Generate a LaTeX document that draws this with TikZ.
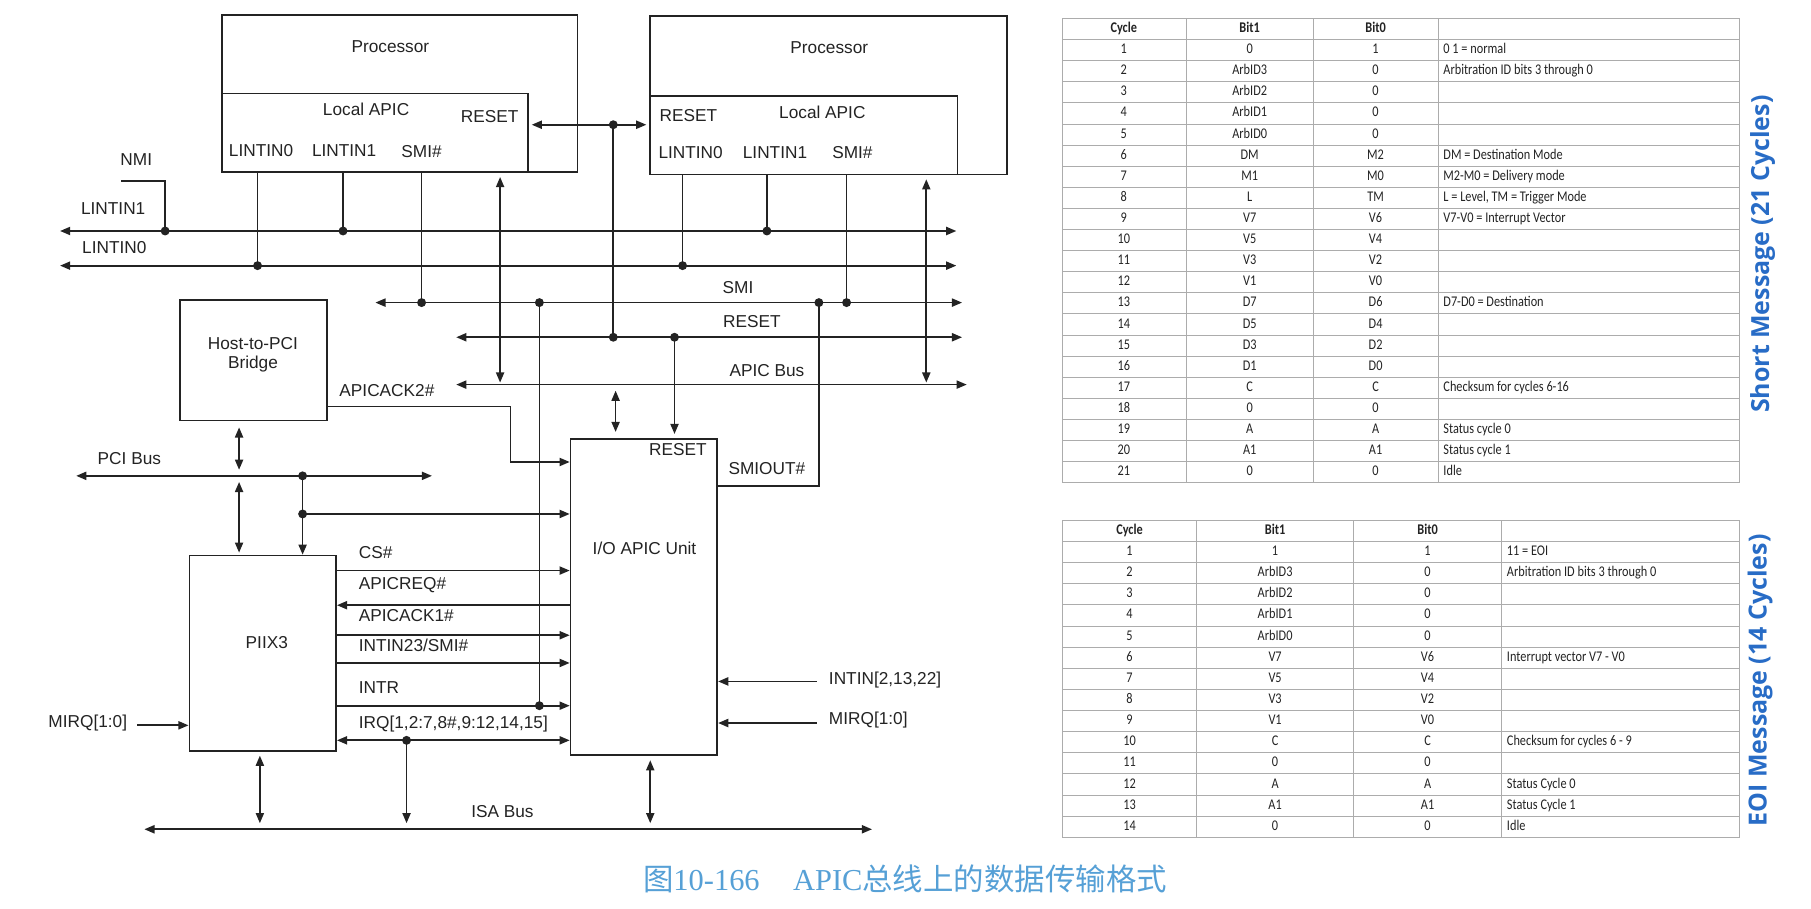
\documentclass[tikz,border=0pt]{standalone}
\usepackage{fontspec}
\setmainfont{Liberation Sans}
\newfontfamily\tabfont[FakeStretch=0.83]{Carlito}
\newfontfamily\titlefont{Open Sans}
\newfontfamily\capfont{Liberation Serif}
\newfontfamily\cjk{Noto Sans CJK SC}
\usepackage{tikz}
\usetikzlibrary{arrows.meta,fit}
\definecolor{ink}{RGB}{35,35,35}
\definecolor{titleblue}{RGB}{40,108,198}
\definecolor{capblue}{RGB}{86,160,214}

\tikzset{
  box/.style={draw,inner sep=0pt},
  lbl/.style={font=\fontsize{8.5}{9.6}\selectfont,inner sep=0pt},
  grid/.style={draw=gray!65,line width=0.45pt},
  cell/.style={font=\tabfont\fontsize{7.3}{8}\selectfont,inner sep=0pt,text height=5pt,text depth=1.5pt,text=ink},
  hcell/.style={cell,font=\tabfont\bfseries\fontsize{7.3}{8}\selectfont},
  ttl/.style={font=\titlefont\bfseries\fontsize{12.3}{14}\selectfont,text=titleblue,rotate=90,inner sep=0pt}
}

\begin{document}
\begin{tikzpicture}[x=0.02cm,y=-0.02cm,>={Triangle[length=5pt,width=4pt]},line width=0.85pt,color=ink]
\useasboundingbox (0,0) rectangle (1568,787);

% processors
\node[box,fit={(192,13) (500,149)}] (cpuA) {};
\node[box,fit={(192,81) (457,149)}] (lapicA) {};
\node[lbl] (cpuAname) at (338,40) {Processor};
\node[lbl] (lapicAname) at (317,95) {Local APIC};
\node[lbl] (rstAname) at (424,101) {RESET};
\node[lbl] (l0Aname) at (226,130) {LINTIN0};
\node[lbl] (l1Aname) at (298,130) {LINTIN1};
\node[lbl] (smiAname) at (365,131) {SMI\#};

\node[box,fit={(563,14) (872,151)}] (cpuB) {};
\node[box,fit={(563,83) (829,151)}] (lapicB) {};
\node[lbl] (cpuBname) at (718,41) {Processor};
\node[lbl] (lapicBname) at (712,97) {Local APIC};
\node[lbl] (rstBname) at (596,100) {RESET};
\node[lbl] (l0Bname) at (598,132) {LINTIN0};
\node[lbl] (l1Bname) at (671,132) {LINTIN1};
\node[lbl] (smiBname) at (738,132) {SMI\#};

% chipset
\node[box,fit={(156,260) (283,364)}] (bridge) {};
\node[lbl,align=center] (bridgename) at (219,307) {Host-to-PCI\\Bridge};
\node[box,fit={(164,481) (291,650)}] (piix) {};
\node[lbl] (piixname) at (231,556) {PIIX3};
\node[box,fit={(494,380) (621,654)}] (io) {};
\node[lbl] (ioname) at (558,475) {I/O APIC Unit};
\node[lbl] (iorst) at (587,389) {RESET};

% buses
\coordinate (lt1W) at (52,200); \coordinate (lt1E) at (828,200);
\coordinate (lt0W) at (52,230); \coordinate (lt0E) at (828,230);
\coordinate (smiW) at (325,262); \coordinate (smiE) at (833,262);
\coordinate (rstW) at (395,292); \coordinate (rstE) at (833,292);
\coordinate (apW) at (395,333); \coordinate (apE) at (837,333);
\coordinate (pciW) at (66,412); \coordinate (pciE) at (374,412);
\coordinate (isaW) at (125,718); \coordinate (isaE) at (755,718);
\draw[<->] (lt1W) -- (lt1E);
\draw[<->] (lt0W) -- (lt0E);
\draw[<->] (smiW) -- (smiE);
\draw[<->] (rstW) -- (rstE);
\draw[<->] (apW) -- (apE);
\draw[<->] (pciW) -- (pciE);
\draw[<->] (isaW) -- (isaE);
\node[lbl] (lt1name) at (98,181) {LINTIN1};
\node[lbl] (lt0name) at (99,214) {LINTIN0};
\node[lbl] (nminame) at (118,138) {NMI};
\node[lbl] (sminame) at (639,249) {SMI};
\node[lbl] (rstname) at (651,278) {RESET};
\node[lbl] (apname) at (664,321) {APIC Bus};
\node[lbl] (pciname) at (112,397) {PCI Bus};
\node[lbl] (isaname) at (435,703) {ISA Bus};

% NMI and local interrupt lines
\coordinate (nmiS) at (105,157); \coordinate (nmiJ) at (143,200);
\draw (nmiS) -| (nmiJ);
\coordinate (l1A) at (297,200); \coordinate (l0A) at (223,230); \coordinate (smiA) at (365,262);
\coordinate (l1B) at (664,200); \coordinate (l0B) at (591,230); \coordinate (smiB) at (733,262);
\draw (lapicA.south -| l1A) -- (l1A);
\draw (lapicA.south -| l0A) -- (l0A);
\draw (lapicA.south -| smiA) -- (smiA);
\draw (lapicB.south -| l1B) -- (l1B);
\draw (lapicB.south -| l0B) -- (l0B);
\draw (lapicB.south -| smiB) -- (smiB);

% reset
\coordinate (rstT) at (531,108); \coordinate (rstJ) at (531,292);
\draw[<->,shorten <=1.5pt,shorten >=1.5pt] (lapicA.east |- rstT) -- (lapicB.west |- rstT);
\draw (rstT) -- (rstJ);
\coordinate (rstIO) at (584,292);
\draw[->,shorten >=2pt] (rstIO) -- (io.north -| rstIO);

% APIC bus taps
\coordinate (apA) at (433,333); \coordinate (apB) at (802,333); \coordinate (apIO) at (533,333);
\draw[<->,shorten <=2pt,shorten >=1pt] (lapicA.south -| apA) -- (apA);
\draw[<->,shorten <=2pt,shorten >=1pt] (lapicB.south -| apB) -- (apB);
\draw[<->,shorten <=3pt,shorten >=3pt] (apIO) -- (io.north -| apIO);

% SMIOUT# and INTR
\coordinate (smiIO) at (709,262); \coordinate (smoC) at (709,421);
\draw (smoC -| io.east) -- (smoC) -- (smiIO);
\node[lbl] (smoname) at (664,406) {SMIOUT\#};
\coordinate (smiV) at (467,262); \coordinate (intrJ) at (467,611);
\draw (smiV) -- (intrJ);

% APICACK2#
\coordinate (ack2a) at (442,352); \coordinate (ack2b) at (442,400);
\draw[->] (ack2a -| bridge.east) -- (ack2a) -- (ack2b) -- (ack2b -| io.west);
\node[lbl] (ack2name) at (335,338) {APICACK2\#};

% PCI side
\coordinate (pciB) at (207,412); \coordinate (pciJ) at (262,412); \coordinate (pciK) at (262,445);
\draw[<->,shorten <=3pt,shorten >=3pt] (bridge.south -| pciB) -- (pciB);
\draw[<->,shorten <=3pt,shorten >=1pt] (pciB) -- (piix.north -| pciB);
\draw[->] (pciJ) -- (piix.north -| pciJ);
\draw[->] (pciK) -- (pciK -| io.west);

% PIIX3 to I/O APIC
\draw[->] (piix.east |- 0,494) -- (io.west |- 0,494);
\draw[<-] (piix.east |- 0,524) -- (io.west |- 0,524);
\draw[->] (piix.east |- 0,550) -- (io.west |- 0,550);
\draw[->] (piix.east |- 0,574) -- (io.west |- 0,574);
\draw[->] (piix.east |- 0,611) -- (io.west |- 0,611);
\draw[<->] (piix.east |- 0,641) -- (io.west |- 0,641);
\node[lbl,anchor=west] (csname) at (310,478) {CS\#};
\node[lbl,anchor=west] (reqname) at (310,507) {APICREQ\#};
\node[lbl,anchor=west] (ack1name) at (310,533) {APICACK1\#};
\node[lbl,anchor=west] (intinname) at (310,559) {INTIN23/SMI\#};
\node[lbl,anchor=west] (intrname) at (310,595) {INTR};
\node[lbl,anchor=west] (irqname) at (310,627) {IRQ[1,2:7,8\#,9:12,14,15]};

% outside inputs
\coordinate (mirqL) at (119,628); \coordinate (intinR) at (707,590); \coordinate (mirqR) at (707,626);
\draw[->] (mirqL) -- (mirqL -| piix.west);
\draw[->] (intinR) -- (intinR -| io.east);
\draw[->] (mirqR) -- (mirqR -| io.east);
\node[lbl] (mirqLname) at (76,626) {MIRQ[1:0]};
\node[lbl,anchor=west] (intinRname) at (717,589) {INTIN[2,13,22]};
\node[lbl,anchor=west] (mirqRname) at (717,623) {MIRQ[1:0]};

% ISA taps
\coordinate (isaP) at (225,718); \coordinate (irqJ) at (352,641);
\coordinate (isaQ) at (352,718); \coordinate (isaR) at (563,718);
\draw[<->,shorten <=2pt,shorten >=3pt] (piix.south -| isaP) -- (isaP);
\draw[->,shorten >=3pt] (irqJ) -- (isaQ);
\draw[<->,shorten <=2pt,shorten >=3pt] (io.south -| isaR) -- (isaR);

\foreach \p in {nmiJ,l1A,l0A,l1B,l0B,smiA,smiB,smiV,smiIO,rstT,rstJ,rstIO,pciJ,pciK,intrJ,irqJ}
  \fill (\p) circle (2.2pt);

% short message table
\draw[grid] (920,16) rectangle (1506,418);
\foreach \x in {1027,1137,1245} \draw[grid] (\x,16) -- (\x,418);
\foreach \k in {1,...,21} \draw[grid] (920,{16+18.27*\k}) -- (1506,{16+18.27*\k});
\node[hcell] (sHc) at (973,25) {Cycle};
\node[hcell] (sHa) at (1082,25) {Bit1};
\node[hcell] (sHb) at (1191,25) {Bit0};
\foreach \ba/\bb/\txt [count=\i] in {0/1/{0 1 = normal},ArbID3/0/{Arbitration ID bits 3 through 0},
  ArbID2/0/{},ArbID1/0/{},ArbID0/0/{},DM/M2/{DM = Destination Mode},M1/M0/{M2-M0 = Delivery mode},
  L/TM/{L = Level, TM = Trigger Mode},V7/V6/{V7-V0 = Interrupt Vector},V5/V4/{},V3/V2/{},V1/V0/{},
  D7/D6/{D7-D0 = Destination},D5/D4/{},D3/D2/{},D1/D0/{},C/C/{Checksum for cycles 6-16},0/0/{},
  A/A/{Status cycle 0},A1/A1/{Status cycle 1},0/0/{Idle}} {
  \node[cell] (sC\i) at (973,{16+18.27*(\i+0.5)}) {\i};
  \node[cell] (sA\i) at (1082,{16+18.27*(\i+0.5)}) {\ba};
  \node[cell] (sB\i) at (1191,{16+18.27*(\i+0.5)}) {\bb};
  \node[cell,anchor=west] (sD\i) at (1249,{16+18.27*(\i+0.5)}) {\txt};
}
\node[ttl] (shortT) at (1526,220) {Short Message (21 Cycles)};

% EOI message table
\draw[grid] (920,450.5) rectangle (1506,725);
\foreach \x in {1036,1172,1300} \draw[grid] (\x,450.5) -- (\x,725);
\foreach \k in {1,...,14} \draw[grid] (920,{450.5+18.3*\k}) -- (1506,{450.5+18.3*\k});
\node[hcell] (eHc) at (978,459.6) {Cycle};
\node[hcell] (eHa) at (1104,459.6) {Bit1};
\node[hcell] (eHb) at (1236,459.6) {Bit0};
\foreach \ba/\bb/\txt [count=\i] in {1/1/{11 = EOI},ArbID3/0/{Arbitration ID bits 3 through 0},
  ArbID2/0/{},ArbID1/0/{},ArbID0/0/{},V7/V6/{Interrupt vector V7 - V0},V5/V4/{},V3/V2/{},V1/V0/{},
  C/C/{Checksum for cycles 6 - 9},0/0/{},A/A/{Status Cycle 0},A1/A1/{Status Cycle 1},0/0/{Idle}} {
  \node[cell] (eC\i) at (978,{450.5+18.3*(\i+0.5)}) {\i};
  \node[cell] (eA\i) at (1104,{450.5+18.3*(\i+0.5)}) {\ba};
  \node[cell] (eB\i) at (1236,{450.5+18.3*(\i+0.5)}) {\bb};
  \node[cell,anchor=west] (eD\i) at (1304,{450.5+18.3*(\i+0.5)}) {\txt};
}
\node[ttl] (eoiT) at (1524,589) {EOI Message (14 Cycles)};

% caption
\node[anchor=west,inner sep=0pt,text=capblue,font=\capfont\fontsize{15}{17}\selectfont] (cap) at (556,761)
  {{\cjk 图}10-166\hspace{1.1em}APIC{\cjk 总线上的数据传输格式}};
\end{tikzpicture}
\end{document}
